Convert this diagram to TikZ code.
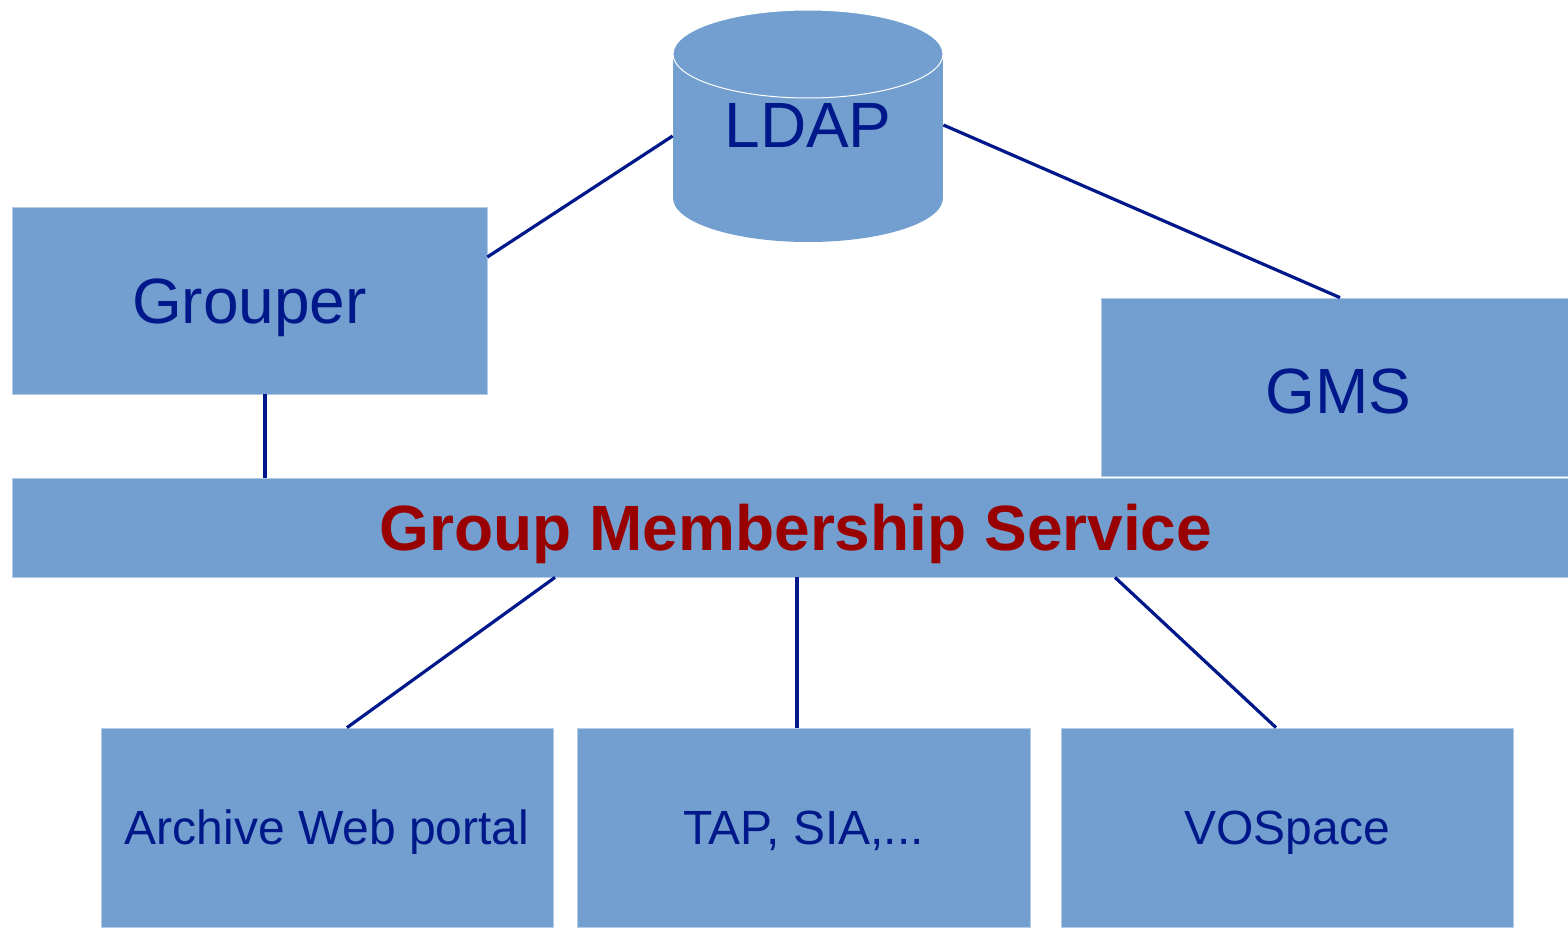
\documentclass[tikz,border=0pt]{standalone}
\usepackage{fontspec}
\setmainfont{Liberation Sans}
\definecolor{boxblue}{HTML}{729FCF}
\definecolor{edgeblue}{HTML}{B4CBE6}
\definecolor{navytext}{HTML}{00188A}
\definecolor{darkred}{HTML}{990000}
\begin{document}
\begin{tikzpicture}[x=0.5pt,y=-0.5pt,
  big/.style={font=\fontsize{32}{36}\selectfont, text height=22.9pt, text depth=0pt},
  small/.style={font=\fontsize{24}{28}\selectfont, text height=17.2pt, text depth=0pt},
  blk/.style={rectangle, fill=boxblue, draw=edgeblue, line width=0.4pt, inner sep=0pt, text=navytext, big},
  link/.style={draw=navytext, line width=1.6pt}]
\useasboundingbox (0,0) rectangle (1568,931);
% LDAP cylinder
\fill[boxblue] (673,54) rectangle (943,198);
\fill[boxblue] (808,198) ellipse [x radius=67.5pt, y radius=22pt];
\filldraw[fill=boxblue, draw=white, line width=0.5pt] (808,54) ellipse [x radius=67.5pt, y radius=22pt];
\node[inner sep=0pt, minimum width=135pt, minimum height=116pt, text=navytext, big] (ldap) at (808,125) {LDAP};
% boxes
\node[blk, minimum width=237.5pt, minimum height=93.5pt] (grouper) at (249.5,300.5) {Grouper};
\node[blk, minimum width=233.5pt, minimum height=89pt] (gms) at (1334.5,387) {\hspace*{4pt}\raisebox{-1.75pt}{GMS}};
\node[blk, minimum width=778pt, minimum height=49.5pt, text=darkred, font=\fontsize{32}{36}\selectfont\bfseries] (bar) at (790,527.5) {\hspace*{6pt}Group Membership Service};
\node[blk, small, minimum width=226pt, minimum height=99.5pt] (archive) at (327,827.5) {Archive Web portal};
\node[blk, small, minimum width=226.5pt, minimum height=99.5pt] (tap) at (803.5,827.5) {TAP, SIA,...};
\node[blk, small, minimum width=226pt, minimum height=99.5pt] (vospace) at (1287,827.5) {VOSpace};
% connectors
\draw[link] ([yshift=-5.5pt]ldap.west) -- ([yshift=21.75pt]grouper.east);
\draw[link] ([yshift=0pt]ldap.east) -- ([xshift=2.75pt]gms.north);
\draw[link] ([xshift=7.75pt]grouper.south) -- ([xshift=-262.5pt]bar.north);
\draw[link] ([xshift=-117.5pt]bar.south) -- ([xshift=10pt]archive.north);
\draw[link] ([xshift=3.5pt]bar.south) -- ([xshift=-3.25pt]tap.north);
\draw[link] ([xshift=162.5pt]bar.south) -- ([xshift=-5.5pt]vospace.north);
\end{tikzpicture}
\end{document}
